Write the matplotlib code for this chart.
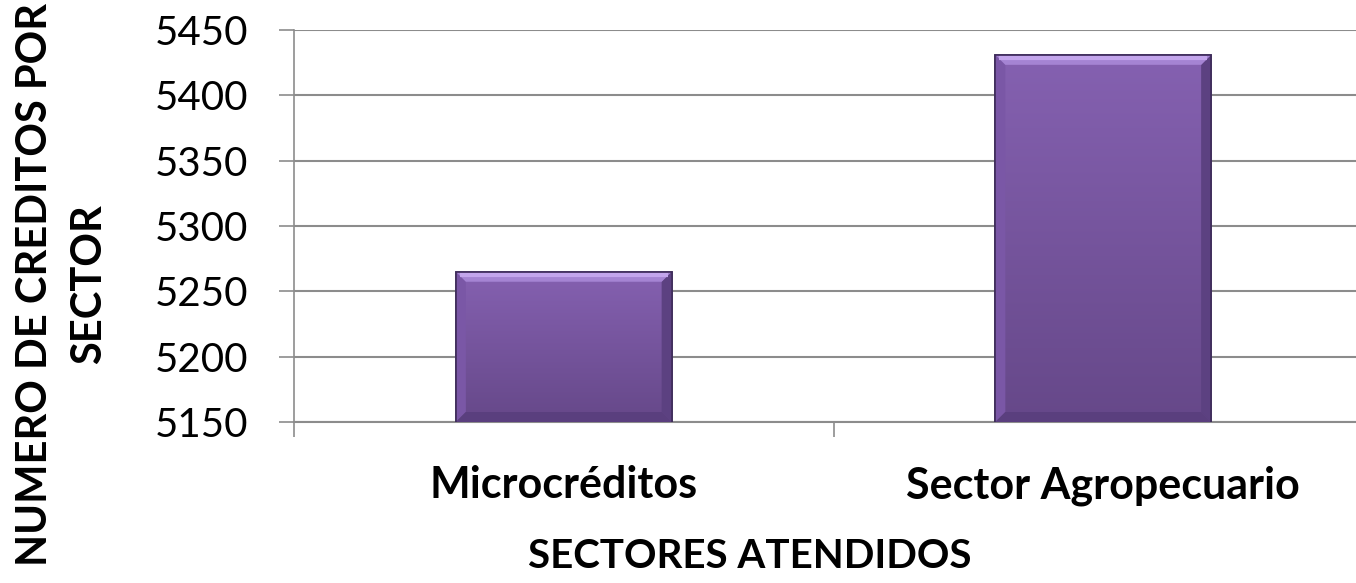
import numpy as np
import matplotlib.pyplot as plt
from matplotlib.colors import LinearSegmentedColormap
from matplotlib.patches import Polygon

plt.rcParams['font.family'] = ['Lato', 'DejaVu Sans']

sectores = ["Microcréditos", "Sector Agropecuario"]
creditos = [5265, 5431]
yticks = [5150, 5200, 5250, 5300, 5350, 5400, 5450]

fig = plt.figure(figsize=(13.56, 5.83), dpi=100)
ax = fig.add_axes([294/1356, 1-422/583, (1373-294)/1356, (422-30)/583])
ax.set_xlim(-0.5, 1.5)
ax.set_ylim(5150, 5450)

x = np.arange(len(sectores))
bars = ax.bar(x, creditos, width=0.4, color="#7a58a4",
              edgecolor="#3e2c5a", linewidth=1.2, zorder=3)

# degradado vertical + biselado tipo Excel
cmap = LinearSegmentedColormap.from_list("morado", ["#664889", "#8561b1"])
grad = np.linspace(0, 1, 256).reshape(-1, 1)
# tamaño del bisel en unidades de datos (~10 px)
bx = 10 / (ax.get_position().width * 1356) * 2.0
by = 10 / (ax.get_position().height * 583) * 300
for b in bars:
    x0, w, h = b.get_x(), b.get_width(), b.get_height()
    y0 = 5150
    im = ax.imshow(grad, extent=[x0, x0 + w, y0, h], origin="lower",
                   aspect="auto", cmap=cmap, zorder=3.5)
    im.set_clip_path(b)
    x1 = x0 + w
    arriba = Polygon([[x0, h], [x1, h], [x1 - bx, h - by], [x0 + bx, h - by]],
                     closed=True, color="#a584d3", lw=0, zorder=4)
    izq = Polygon([[x0, h], [x0 + bx, h - by], [x0 + bx, y0 + by], [x0, y0]],
                  closed=True, color="#7a57a6", lw=0, zorder=4)
    der = Polygon([[x1, h], [x1 - bx, h - by], [x1 - bx, y0 + by], [x1, y0]],
                  closed=True, color="#5c4181", lw=0, zorder=4)
    abajo = Polygon([[x0, y0], [x1, y0], [x1 - bx, y0 + by], [x0 + bx, y0 + by]],
                    closed=True, color="#5a3f7e", lw=0, zorder=4)
    for p in (izq, der, abajo, arriba):
        ax.add_patch(p)
    ax.plot([x0 + bx*0.4, x1 - bx*0.4], [h - by*0.35, h - by*0.35],
            color="#c3a5ec", lw=3, zorder=4.5, solid_capstyle="butt")
    ax.bar(x0 + w/2, h, width=w, color="none", edgecolor="#3e2c5a",
           linewidth=1.2, zorder=5)

ax.set_yticks(yticks)
ax.set_yticklabels([str(v) for v in yticks], fontsize=29)
ax.yaxis.grid(True, color="#8c8c8c", linewidth=1.5, zorder=0)
ax.set_axisbelow(True)

ax.set_xticks(x)
ax.set_xticklabels(sectores, fontsize=31, fontweight="bold")
ax.set_xticks([-0.5, 0.5, 1.5], minor=True)
ax.tick_params(axis="x", which="major", length=0, pad=31)
ax.tick_params(axis="x", which="minor", length=10.8, width=1.2, color="#8c8c8c")
ax.tick_params(axis="y", length=10.8, width=1.2, color="#8c8c8c", pad=22)

for s in ["top", "right"]:
    ax.spines[s].set_visible(False)
ax.spines["left"].set_color("#8c8c8c")
ax.spines["bottom"].set_color("#8c8c8c")
ax.spines["left"].set_linewidth(1.2)
ax.spines["bottom"].set_linewidth(1.5)

fig.text(750/1356, 1-557/583, "SECTORES ATENDIDOS", fontsize=29,
         fontweight="bold", ha="center", va="center")
fig.text(62/1356, 1-284/583, "NUMERO DE CREDITOS POR\nSECTOR", fontsize=30,
         fontweight="bold", rotation=90, ha="center", va="center",
         multialignment="center", linespacing=1.5)

fig.savefig("out.png", dpi=100)
